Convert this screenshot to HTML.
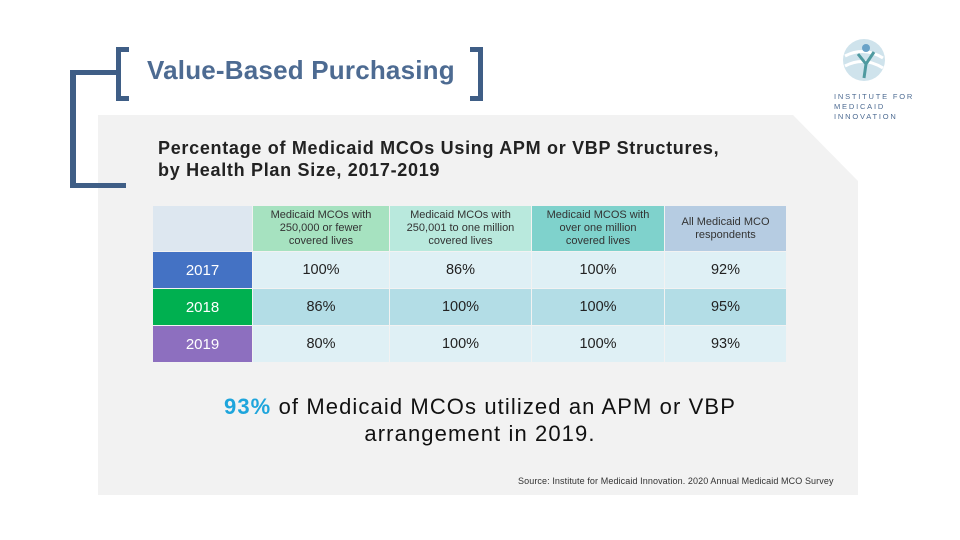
<!DOCTYPE html>
<html><head><meta charset="utf-8"><style>
body{margin:0;width:960px;height:540px;background:#fff;position:relative;overflow:hidden;font-family:"Liberation Sans",sans-serif}
.a{position:absolute}
.panel{left:98px;top:115px;width:760px;height:380px;background:#f2f2f2;clip-path:polygon(0 0,695px 0,760px 66px,760px 380px,0 380px)}
.bar{background:#3f5e86}
table{position:absolute;left:152px;top:205px;border-collapse:collapse;table-layout:fixed}
td{border:1px solid #f2f2f2;text-align:center;padding:0;color:#222}
.h td{font-size:11px;line-height:13px;height:45px;color:#333}
.r td{height:36px;font-size:14.5px}
.y{color:#fff!important;font-size:15px!important}
</style></head><body>
<div class="a panel"></div>
<div class="a bar" style="left:70px;top:70px;width:6px;height:118px"></div>
<div class="a bar" style="left:70px;top:70px;width:48px;height:5px"></div>
<div class="a bar" style="left:70px;top:183px;width:56px;height:5px"></div>
<div class="a" style="left:116px;top:47px;width:8px;height:44px;border:5px solid #3f5e86;border-right:none"></div>
<div class="a" style="left:470px;top:47px;width:8px;height:44px;border:5px solid #3f5e86;border-left:none"></div>
<div class="a" style="left:147px;top:55px;font-size:26px;font-weight:bold;color:#4d6b92;letter-spacing:0.2px">Value-Based Purchasing</div>
<div class="a" style="left:838px;top:36px;width:52px;height:52px"><svg width="52" height="52"><circle cx="26" cy="24" r="21" fill="#cfe3ec"/><path d="M7 20 Q26 10 45 22 M7 30 Q26 20 45 32" stroke="#fff" stroke-width="3" fill="none"/><circle cx="28" cy="12" r="4" fill="#6aa3c8"/><path d="M20 18 L28 28 L36 16 M28 28 L26 42" stroke="#4f9aa0" stroke-width="3" fill="none"/></svg></div>
<div class="a" style="left:834px;top:92px;font-size:7.5px;line-height:10px;letter-spacing:1.8px;color:#4d6b92">INSTITUTE FOR<br>MEDICAID<br>INNOVATION</div>
<div class="a" style="left:158px;top:137px;font-size:18px;line-height:22px;font-weight:bold;color:#222;letter-spacing:0.7px">Percentage of Medicaid MCOs Using APM or VBP Structures,<br>by Health Plan Size, 2017-2019</div>
<table>
<colgroup><col style="width:100px"><col style="width:137px"><col style="width:142px"><col style="width:133px"><col style="width:122px"></colgroup>
<tr class="h"><td style="background:#dde7f0"></td>
<td style="background:#a6e2c0">Medicaid MCOs with<br>250,000 or fewer<br>covered lives</td>
<td style="background:#b9e9dd">Medicaid MCOs with<br>250,001 to one million<br>covered lives</td>
<td style="background:#7fd2cc">Medicaid MCOS with<br>over one million<br>covered lives</td>
<td style="background:#b6cce2">All Medicaid MCO<br>respondents</td></tr>
<tr class="r" style="background:#dff0f5"><td class="y" style="background:#4472c4">2017</td><td>100%</td><td>86%</td><td>100%</td><td>92%</td></tr>
<tr class="r" style="background:#b3dde6"><td class="y" style="background:#00b050">2018</td><td>86%</td><td>100%</td><td>100%</td><td>95%</td></tr>
<tr class="r" style="background:#dff0f5"><td class="y" style="background:#8d6fbf">2019</td><td>80%</td><td>100%</td><td>100%</td><td>93%</td></tr>
</table>
<div class="a" style="left:140px;top:393px;width:680px;text-align:center;font-size:22px;line-height:27px;color:#111;letter-spacing:1.1px"><b style="color:#1ea5dc">93%</b> of Medicaid MCOs utilized an APM or VBP<br>arrangement in 2019.</div>
<div class="a" style="left:518px;top:476px;font-size:9px;color:#333;letter-spacing:0.1px">Source: Institute for Medicaid Innovation. 2020 Annual Medicaid MCO Survey</div>
</body></html>
